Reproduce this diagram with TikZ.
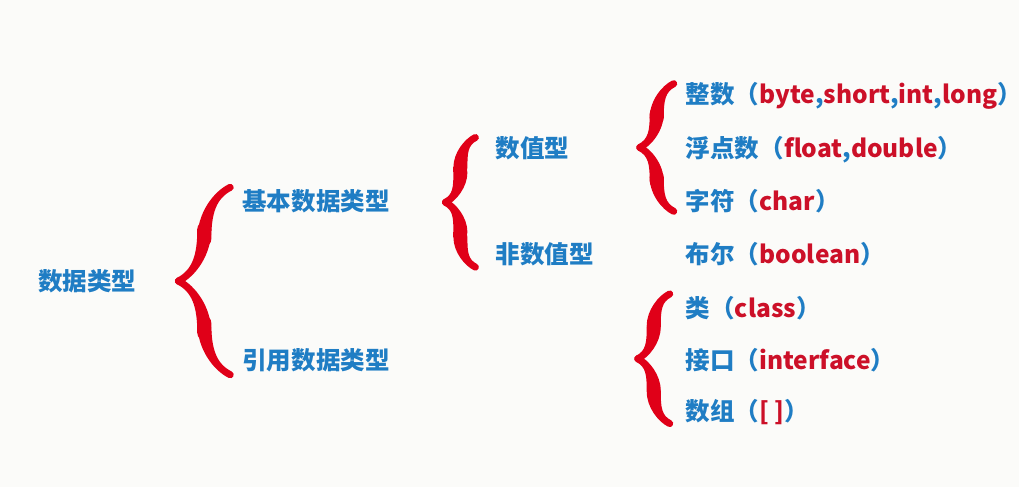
\documentclass[tikz,border=0pt]{standalone}
\usepackage{fontspec}
\setmainfont{Noto Sans CJK SC}
\usetikzlibrary{decorations.pathreplacing,calligraphy}

\definecolor{typeblue}{RGB}{31,125,196}
\definecolor{typered}{RGB}{204,16,40}
\definecolor{bracered}{RGB}{224,0,24}
\definecolor{paper}{RGB}{251,251,249}

\newcommand{\kw}[1]{\textcolor{typered}{#1}}

\begin{document}
\begin{tikzpicture}[
    x=0.025cm, y=-0.025cm,
    typename/.style={anchor=west, inner sep=0pt, text=typeblue, font=\fontsize{17.5}{20}\selectfont\bfseries},
    curly/.style={decorate, decoration={calligraphic brace, amplitude=#1}, line width=10pt, pen colour={bracered}}
  ]
    % Page size from the background.
    \fill[paper] (0,0) rectangle (1022,489);

    % Root and its two kinds.
    \node[typename] at (38,282) (root) {数据类型};
    \node[typename] at (243,202) (basic) {基本数据类型};
    \node[typename] at (243,361) (ref) {引用数据类型};

    % Basic types.
    \node[typename] at (497,149) (numeric) {数值型};
    \node[typename] at (497,255) (nonnum) {非数值型};
    \node[typename] at (688,96) (int) {整数（\kw{byte},\kw{short},\kw{int},\kw{long}）};
    \node[typename] at (688,150) (float) {浮点数（\kw{float},\kw{double}）};
    \node[typename] at (688,202) (char) {字符（\kw{char}）};
    \node[typename] at (688,255) (bool) {布尔（\kw{boolean}）};

    % Reference types.
    \node[typename] at (688,309) (class) {类（\kw{class}）};
    \node[typename] at (688,361) (iface) {接口（\kw{interface}）};
    \node[typename] at (688,413) (array) {数组（\kw{[ ]}）};

    % Braces.
    \draw[curly=1.3cm] ([xshift=-0.3cm,yshift=-0.375cm]ref.west) -- ([xshift=-0.3cm,yshift=0.35cm]basic.west);
    \draw[curly=0.75cm] ([xshift=-0.5cm,yshift=-0.325cm]nonnum.west) -- ([xshift=-0.5cm,yshift=0.275cm]numeric.west);
    \draw[curly=0.85cm] ([xshift=-0.3cm,yshift=-0.25cm]char.west) -- ([xshift=-0.3cm,yshift=0.3cm]int.west);
    \draw[curly=0.8cm] ([xshift=-0.4cm,yshift=-0.3cm]array.west) -- ([xshift=-0.4cm,yshift=0.35cm]class.west);
  \end{tikzpicture}
\end{document}
